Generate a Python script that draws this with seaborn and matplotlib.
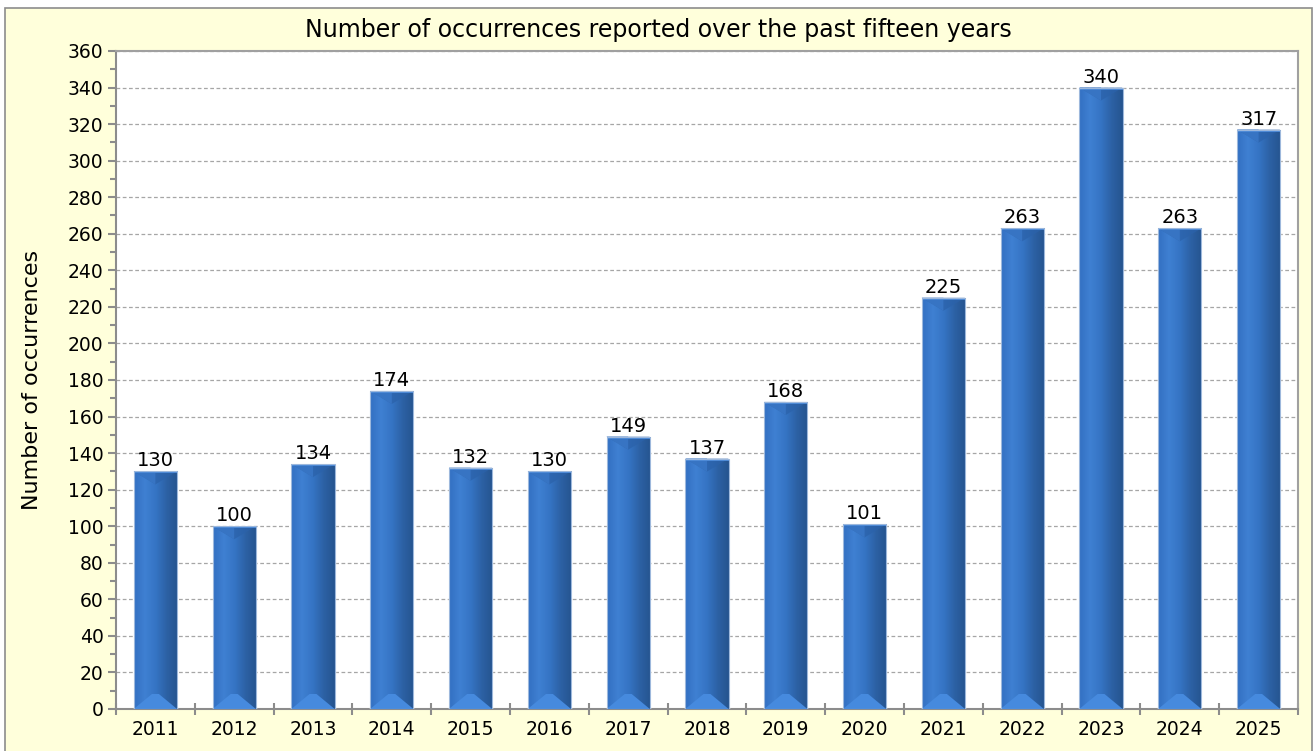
import matplotlib
matplotlib.use("Agg")
import matplotlib.pyplot as plt
import seaborn as sns
import numpy as np
import pandas as pd
from matplotlib.patches import Rectangle, Polygon
from matplotlib.ticker import MultipleLocator, FixedLocator
from matplotlib.colors import LinearSegmentedColormap

years = ["2011", "2012", "2013", "2014", "2015", "2016", "2017", "2018",
         "2019", "2020", "2021", "2022", "2023", "2024", "2025"]
counts = [130, 100, 134, 174, 132, 130, 149, 137, 168, 101, 225, 263, 340, 263, 317]
title = "Number of occurrences reported over the past fifteen years"
ylabel = "Number of occurrences"

sns.set_theme(style="white")
plt.rcParams['font.family'] = ['DejaVu Sans']

bg = "#FFFFDB"
fig = plt.figure(figsize=(13.14, 7.51), dpi=100)
fig.patch.set_facecolor("white")
fig.patches.append(Rectangle((5/1314, -0.01), 1307/1314, (751-8)/751 + 0.01,
                             transform=fig.transFigure, facecolor=bg,
                             edgecolor="#8C8C8C", linewidth=1.2, zorder=-10))

ax = fig.add_axes([116/1314, 42/751, 1182/1314, 658/751])
ax.set_facecolor("white")
df = pd.DataFrame({"year": years, "count": counts})
sns.barplot(data=df, x="year", y="count", color="#3574C4", width=0.55,
            saturation=1, ax=ax, zorder=3)

ax.set_ylim(0, 360)
ax.set_xlim(-0.5, len(years) - 0.5)
ax.yaxis.set_major_locator(MultipleLocator(20))
ax.yaxis.set_minor_locator(MultipleLocator(10))
ax.grid(axis="y", which="major", linestyle=(0, (3, 2)), color="#A6A6A6", linewidth=0.9, zorder=0)
ax.set_axisbelow(True)

grad = np.linspace(0, 1, 256).reshape(1, -1)
cmap = LinearSegmentedColormap.from_list("bar", ["#3370C2", "#3F80D2", "#3574C4", "#2C61A4", "#25548F"])
ypp = 360 / 658  # data units per pixel vertically
for p in list(ax.patches):
    x0, w, h = p.get_x(), p.get_width(), p.get_height()
    im = ax.imshow(grad, extent=[x0, x0 + w, 0, h], aspect="auto", cmap=cmap, zorder=4)
    im.set_clip_path(p)
    dt = 13 * ypp
    db = 15 * ypp
    ax.add_patch(Polygon([[x0, h], [x0 + w / 2, h - dt], [x0 + w, h]], closed=True,
                         facecolor="#2B62AA", edgecolor="none", alpha=0.75, zorder=5))
    ax.add_patch(Polygon([[x0, h], [x0 + w / 2, h - dt], [x0 + w / 2, h]], closed=True,
                         facecolor="#3A78C8", edgecolor="none", alpha=0.8, zorder=5))
    ax.add_patch(Polygon([[x0, h], [x0 + w, h], [x0 + w, h - 2 * ypp], [x0, h - 2 * ypp]],
                         closed=True, facecolor="#4A88D6", edgecolor="none", zorder=5))
    ax.add_patch(Polygon([[x0, 0], [x0 + w * 0.42, db], [x0 + w * 0.58, db], [x0 + w, 0]],
                         closed=True, facecolor="#468ADE", edgecolor="none", zorder=5))
    ax.add_patch(Rectangle((x0, 0), w, h, facecolor="none", edgecolor="#9DB8DC",
                           linewidth=0.8, zorder=6))
    ax.text(x0 + w / 2, h + 0.5, f"{int(h)}", ha="center", va="bottom",
            fontsize=14, color="black", zorder=7)

for s in ax.spines.values():
    s.set_color("#8C8C8C")
    s.set_linewidth(1.5)
ax.spines["top"].set_color("#A0A0A0")
ax.spines["right"].set_color("#A0A0A0")

ax.xaxis.set_major_locator(FixedLocator(np.arange(len(years))))
ax.xaxis.set_minor_locator(FixedLocator(np.arange(-0.5, len(years), 1.0)))
ax.set_xticklabels(years)
ax.tick_params(axis="x", which="major", length=0, labelsize=13.5, pad=8, colors="black")
ax.tick_params(axis="x", which="minor", length=8, width=1.5, color="#8C8C8C", direction="inout", bottom=True)
ax.tick_params(axis="y", which="major", length=6, width=1.5, color="#8C8C8C", direction="out", left=True, labelsize=13.5, pad=3, labelcolor="black")
ax.tick_params(axis="y", which="minor", length=4, width=1.5, color="#8C8C8C", direction="out", left=True)
ax.set_xlabel("")
ax.set_ylabel(ylabel, fontsize=16, color="black")
ax.yaxis.set_label_coords(-0.063, 0.5)

fig.text(658/1314, 1 - 30/751, title, ha="center", va="center", fontsize=17, color="black")

fig.savefig("out.png", dpi=100, facecolor=fig.get_facecolor())
